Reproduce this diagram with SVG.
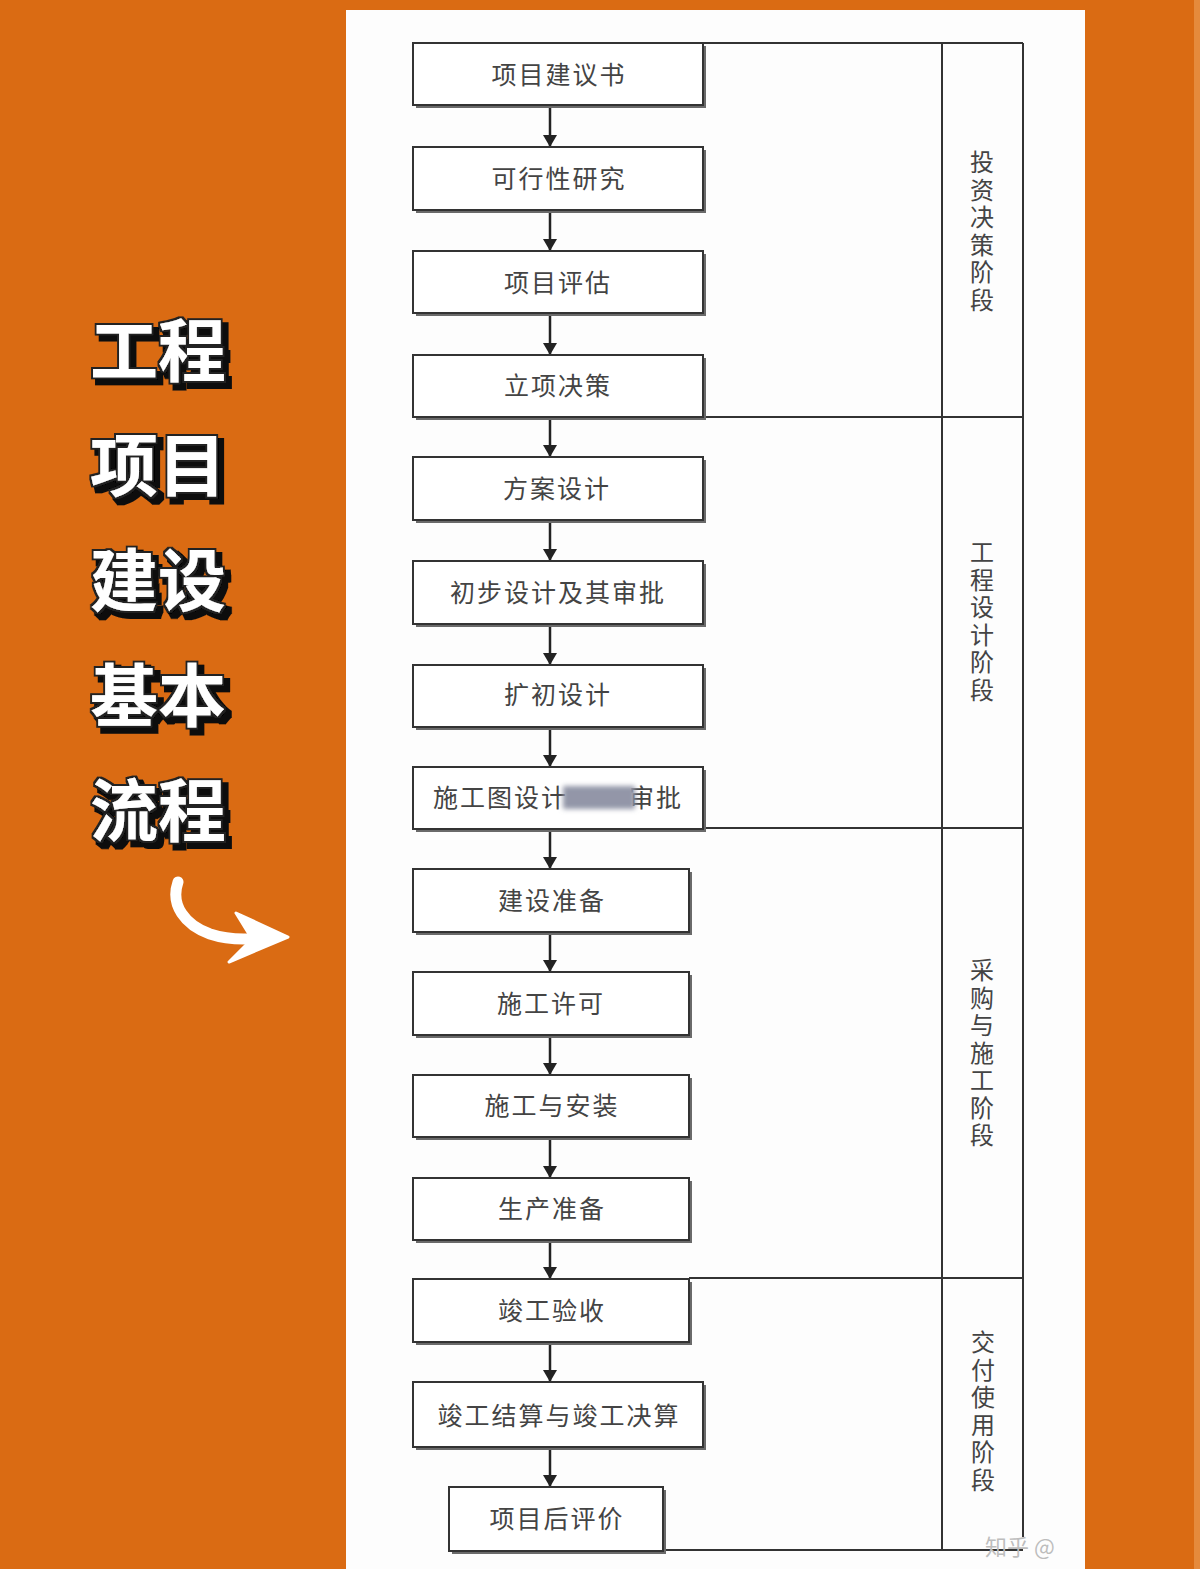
<svg xmlns="http://www.w3.org/2000/svg" width="1200" height="1569" viewBox="0 0 1200 1569">
<defs>
<style>
.box{fill:#fff;stroke:#333;stroke-width:2}
.sh{fill:#6a6a6a}
.t{font-family:"Noto Sans CJK SC","Noto Sans",sans-serif;font-size:25px;fill:#444;text-anchor:middle;letter-spacing:2px}
.st{font-family:"Noto Sans CJK SC","Noto Sans",sans-serif;font-size:24px;fill:#444;writing-mode:vertical-rl;text-orientation:upright;letter-spacing:3.5px}
.frame{stroke:#333;stroke-width:2;fill:none}
.conn{stroke:#222;stroke-width:2.5;fill:none}
.title{font-family:"Noto Sans CJK SC","Noto Sans",sans-serif;font-size:68px;font-weight:700;fill:#fff}
</style>
<marker id="ah" viewBox="0 0 12 14" refX="12" refY="7" markerWidth="12" markerHeight="14" markerUnits="userSpaceOnUse" orient="auto">
<path d="M0,0 L12,7 L0,14 Z" fill="#222"/>
</marker>
<filter id="blur" x="-20%" y="-50%" width="140%" height="200%"><feGaussianBlur stdDeviation="2.5"/></filter>
<filter id="tshadow" x="-10%" y="-10%" width="130%" height="130%">
<feMorphology in="SourceAlpha" operator="dilate" radius="1.5" result="ol"/>
<feOffset in="ol" dx="5" dy="5" result="off"/>
<feMorphology in="off" operator="dilate" radius="1" result="off2"/>
<feFlood flood-color="#111"/>
<feComposite operator="in" in2="off2" result="shadow"/>
<feFlood flood-color="#222"/>
<feComposite operator="in" in2="ol" result="outline"/>
<feMerge><feMergeNode in="shadow"/><feMergeNode in="outline"/><feMergeNode in="SourceGraphic"/></feMerge>
</filter>
</defs>
<rect x="0" y="0" width="1200" height="1569" fill="#da6b13"/>
<rect x="346" y="10" width="739" height="1559" fill="#fdfdfd"/>
<rect x="1194" y="0" width="6" height="1569" fill="#e58a3c"/>

<g id="title" class="title" filter="url(#tshadow)">
<text x="90" y="376">工程</text>
<text x="90" y="491">项目</text>
<text x="90" y="606">建设</text>
<text x="90" y="721">基本</text>
<text x="90" y="836">流程</text>
</g>

<g id="pointer">
<path d="M178,882 C170,905 185,925 210,934 C228,940 245,940 262,938" stroke="#fff" stroke-width="11" stroke-linecap="round" fill="none"/>
<path d="M236,913 L288,937 L229,962 L252,939 Z" fill="#fff" stroke="#fff" stroke-width="3" stroke-linejoin="round"/>
</g>

<g id="frame" class="frame">
<line x1="703" y1="43" x2="1023" y2="43"/>
<line x1="942" y1="43" x2="942" y2="1551"/>
<line x1="1023" y1="43" x2="1023" y2="1537"/>
<line x1="703" y1="417" x2="1023" y2="417"/>
<line x1="703" y1="828" x2="1023" y2="828"/>
<line x1="689" y1="1278" x2="1023" y2="1278"/>
<line x1="663" y1="1550" x2="1023" y2="1550"/>
</g>

<g id="connectors" class="conn">
<line x1="550" y1="105" x2="550" y2="147" marker-end="url(#ah)"/>
<line x1="550" y1="210" x2="550" y2="251" marker-end="url(#ah)"/>
<line x1="550" y1="313" x2="550" y2="355" marker-end="url(#ah)"/>
<line x1="550" y1="417" x2="550" y2="457" marker-end="url(#ah)"/>
<line x1="550" y1="520" x2="550" y2="561" marker-end="url(#ah)"/>
<line x1="550" y1="624" x2="550" y2="665" marker-end="url(#ah)"/>
<line x1="550" y1="727" x2="550" y2="767" marker-end="url(#ah)"/>
<line x1="550" y1="829" x2="550" y2="869" marker-end="url(#ah)"/>
<line x1="550" y1="932" x2="550" y2="972" marker-end="url(#ah)"/>
<line x1="550" y1="1035" x2="550" y2="1075" marker-end="url(#ah)"/>
<line x1="550" y1="1137" x2="550" y2="1178" marker-end="url(#ah)"/>
<line x1="550" y1="1240" x2="550" y2="1279" marker-end="url(#ah)"/>
<line x1="550" y1="1342" x2="550" y2="1382" marker-end="url(#ah)"/>
<line x1="550" y1="1447" x2="550" y2="1487" marker-end="url(#ah)"/>
</g>

<g id="n1"><rect class="sh" x="416" y="46" width="290" height="62"/><rect class="box" x="413" y="43" width="290" height="62"/><text class="t" x="559" y="84">项目建议书</text></g>
<g id="n2"><rect class="sh" x="416" y="150" width="290" height="63"/><rect class="box" x="413" y="147" width="290" height="63"/><text class="t" x="559" y="188">可行性研究</text></g>
<g id="n3"><rect class="sh" x="416" y="254" width="290" height="62"/><rect class="box" x="413" y="251" width="290" height="62"/><text class="t" x="558" y="292">项目评估</text></g>
<g id="n4"><rect class="sh" x="416" y="358" width="290" height="62"/><rect class="box" x="413" y="355" width="290" height="62"/><text class="t" x="558" y="395">立项决策</text></g>
<g id="n5"><rect class="sh" x="416" y="460" width="290" height="63"/><rect class="box" x="413" y="457" width="290" height="63"/><text class="t" x="557" y="498">方案设计</text></g>
<g id="n6"><rect class="sh" x="416" y="564" width="290" height="63"/><rect class="box" x="413" y="561" width="290" height="63"/><text class="t" x="558" y="602">初步设计及其审批</text></g>
<g id="n7"><rect class="sh" x="416" y="668" width="290" height="62"/><rect class="box" x="413" y="665" width="290" height="62"/><text class="t" x="558" y="704">扩初设计</text></g>
<g id="n8"><rect class="sh" x="416" y="770" width="290" height="62"/><rect class="box" x="413" y="767" width="290" height="62"/>
<text class="t" x="433" y="807" style="text-anchor:start">施工图设计</text>
<text class="t" x="629" y="807" style="text-anchor:start">审批</text>
<rect x="563" y="786" width="72" height="23" fill="#9396a8" filter="url(#blur)"/></g>
<g id="n9"><rect class="sh" x="416" y="872" width="276" height="63"/><rect class="box" x="413" y="869" width="276" height="63"/><text class="t" x="552" y="910">建设准备</text></g>
<g id="n10"><rect class="sh" x="416" y="975" width="276" height="63"/><rect class="box" x="413" y="972" width="276" height="63"/><text class="t" x="551" y="1013">施工许可</text></g>
<g id="n11"><rect class="sh" x="416" y="1078" width="276" height="62"/><rect class="box" x="413" y="1075" width="276" height="62"/><text class="t" x="552" y="1115">施工与安装</text></g>
<g id="n12"><rect class="sh" x="416" y="1181" width="276" height="62"/><rect class="box" x="413" y="1178" width="276" height="62"/><text class="t" x="552" y="1218">生产准备</text></g>
<g id="n13"><rect class="sh" x="416" y="1282" width="276" height="63"/><rect class="box" x="413" y="1279" width="276" height="63"/><text class="t" x="552" y="1320">竣工验收</text></g>
<g id="n14"><rect class="sh" x="416" y="1385" width="290" height="65"/><rect class="box" x="413" y="1382" width="290" height="65"/><text class="t" x="559" y="1425">竣工结算与竣工决算</text></g>
<g id="n15"><rect class="sh" x="452" y="1490" width="214" height="64"/><rect class="box" x="449" y="1487" width="214" height="64"/><text class="t" x="557" y="1528">项目后评价</text></g>

<g id="stage1"><text class="st" x="982" y="150">投资决策阶段</text></g>
<g id="stage2"><text class="st" x="982" y="540">工程设计阶段</text></g>
<g id="stage3"><text class="st" x="982" y="958">采购与施工阶段</text></g>
<g id="stage4"><text class="st" x="983" y="1330">交付使用阶段</text></g>

<g id="watermark"><text x="985" y="1555" font-family="Noto Sans CJK SC, sans-serif" font-size="22" fill="#bdbdbd">知乎 @</text></g>
</svg>
